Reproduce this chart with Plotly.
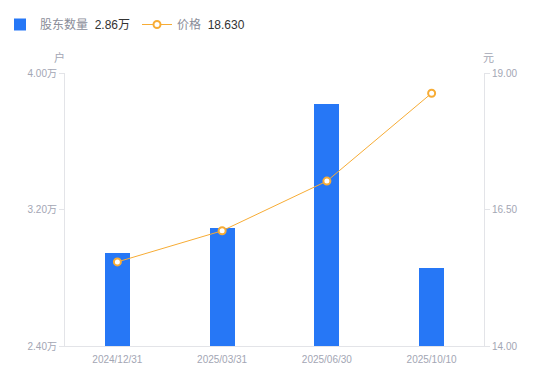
import plotly.graph_objects as go

dates = ["2024/12/31", "2025/03/31", "2025/06/30", "2025/10/10"]
holders_wan = [2.945, 3.09, 3.82, 2.86]
prices = [15.54, 16.11, 17.02, 18.63]
left_ticks = [2.40, 3.20, 4.00]
left_tick_text = ["2.40万", "3.20万", "4.00万"]
right_ticks = [14.00, 16.50, 19.00]
right_tick_text = ["14.00", "16.50", "19.00"]

BLUE = "#2677F6"
ORANGE = "#F7AC35"
GRAY = "#A3A6B4"
AXIS = "#E3E4E8"
FONT = "Liberation Sans, Noto Sans CJK SC, sans-serif"

W, H = 550, 381
ML, MR, MT, MB = 65, 66, 73, 35
pw, ph = W - ML - MR, H - MT - MB


def px_to_paper(x, y):
    return (x - ML) / pw, (H - MB - y) / ph


fig = go.Figure()
fig.add_trace(go.Bar(
    x=dates, y=holders_wan, width=0.24, marker=dict(color=BLUE, line=dict(width=0)),
    name="<span style='color:#8a8d99'>股东数量</span>  <span style='color:#333'>2.86万</span>",
    yaxis="y",
))
fig.add_trace(go.Scatter(
    x=dates, y=prices, mode="lines+markers",
    line=dict(color=ORANGE, width=1),
    marker=dict(symbol="circle", size=7, color="white", line=dict(color=ORANGE, width=2)),
    name="<span style='color:#8a8d99'>价格</span>  <span style='color:#333'>18.630</span>",
    yaxis="y2",
))

ax1, ay1 = px_to_paper(59, 57)
ax2, ay2 = px_to_paper(489, 57)

fig.update_layout(
    width=W, height=H,
    margin=dict(l=ML, r=MR, t=MT, b=MB),
    paper_bgcolor="white", plot_bgcolor="white",
    font=dict(family=FONT, size=10, color=GRAY),
    showlegend=True,
    legend=dict(orientation="h", x=-6 / W, xref="container", y=1 - 10 / H, yref="container",
                xanchor="left", yanchor="top", font=dict(size=12, family=FONT),
                itemwidth=30, entrywidth=92, tracegroupgap=0, bgcolor="rgba(0,0,0,0)"),
    bargap=0,
    xaxis=dict(type="category", showline=True, linecolor=AXIS, linewidth=1,
               ticks="", showgrid=False, tickfont=dict(size=10, color=GRAY), ticklabelstandoff=4),
    yaxis=dict(range=[2.40, 4.00], tickvals=left_ticks, ticktext=left_tick_text,
               showgrid=False, zeroline=False, showline=True, linecolor=AXIS, linewidth=1,
               ticks="outside", ticklen=5, tickcolor=AXIS, tickfont=dict(size=10, color=GRAY)),
    yaxis2=dict(range=[14.0, 19.0], tickvals=right_ticks, ticktext=right_tick_text,
                overlaying="y", side="right", showgrid=False, zeroline=False,
                showline=True, linecolor=AXIS, linewidth=1,
                ticks="outside", ticklen=5, tickcolor=AXIS, tickfont=dict(size=10, color=GRAY)),
    annotations=[
        dict(text="户", x=ax1, y=ay1, xref="paper", yref="paper", showarrow=False,
             xanchor="center", yanchor="middle",
             font=dict(size=11, color=GRAY, family="Noto Sans CJK SC")),
        dict(text="元", x=ax2, y=ay2, xref="paper", yref="paper", showarrow=False,
             xanchor="center", yanchor="middle",
             font=dict(size=11, color=GRAY, family="Noto Sans CJK SC")),
    ],
)

fig.write_html("out.html")
